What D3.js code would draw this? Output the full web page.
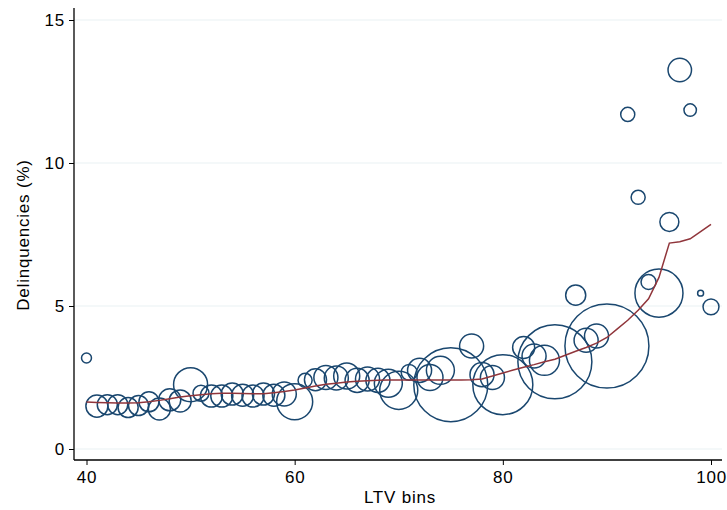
<!DOCTYPE html>
<html>
<head>
<meta charset="utf-8">
<script src="https://cdn.jsdelivr.net/npm/d3@7"></script>
<style>
  body { margin: 0; background: #fff; }
  svg { display: block; font-family: "Liberation Sans", Arial, sans-serif; }
</style>
</head>
<body>
<svg id="chart" width="727" height="510"></svg>
<script>
// LTV bins shown as bubbles (some bins have no bubble)
const bins = [40, 41, 42, 43, 44, 45, 46, 47, 48, 49, 50, 51, 52, 53, 54, 55, 56, 57, 58, 59,
  60, 61, 62, 63, 64, 65, 66, 67, 68, 69, 70, 71, 72, 73, 74, 75, 77, 78, 79, 80,
  82, 83, 84, 85, 87, 88, 89, 90, 92, 93, 94, 95, 96, 97, 98, 99, 100];
const delinq = [3.18, 1.50, 1.55, 1.55, 1.45, 1.52, 1.65, 1.40, 1.72, 1.68, 2.25, 1.95, 1.85, 1.85, 1.92, 1.88, 1.85, 1.92, 1.88, 1.92,
  1.65, 2.40, 2.42, 2.50, 2.48, 2.55, 2.40, 2.45, 2.40, 2.30, 2.05, 2.68, 2.75, 2.50, 2.75, 2.25, 3.60, 2.60, 2.50, 2.25,
  3.55, 3.25, 3.10, 3.05, 5.38, 3.80, 3.95, 3.60, 11.70, 8.80, 5.84, 5.45, 7.94, 13.25, 11.85, 5.45, 4.97];
// bubble weights (share of loans)
const weight = [1.4, 6.9, 5.7, 5.7, 5.7, 5.7, 5.7, 6.9, 6.9, 6.9, 16.4, 3.6, 6.9, 6.9, 6.9, 6.9, 6.9, 6.9, 6.9, 8.2,
  18.4, 2.8, 6.9, 8.2, 8.2, 9.6, 8.2, 8.2, 8.2, 11.1, 20.5, 3.6, 8.2, 9.6, 11.1, 77.6, 8.2, 8.2, 8.2, 51,
  6.9, 8.2, 12.8, 77.6, 5.7, 8.2, 8.2, 100, 2.8, 2.8, 3.2, 32.7, 5.1, 7.8, 2.2, 0.5, 3.6];

// fitted line
const fitX = d3.range(40, 101);
const fitY = [1.64, 1.63, 1.62, 1.61, 1.61, 1.62, 1.65, 1.70, 1.76, 1.82, 1.86, 1.90, 1.93, 1.95, 1.95, 1.94, 1.93, 1.93, 1.97, 2.01,
  2.06, 2.13, 2.20, 2.26, 2.30, 2.34, 2.37, 2.39, 2.40, 2.41, 2.41, 2.41, 2.41, 2.41, 2.41, 2.41, 2.41, 2.42, 2.45, 2.55,
  2.66, 2.76, 2.86, 2.95, 3.05, 3.14, 3.28, 3.42, 3.55, 3.70, 3.90, 4.20, 4.50, 4.85, 5.25, 6.00, 7.20, 7.25, 7.35, 7.60, 7.85];

const xTicks = [40, 60, 80, 100];
const yTicks = [0, 5, 10, 15];

const svg = d3.select("#chart");
const plotLeft = 74, plotRight = 722, plotTop = 8, plotBottom = 460;

const x = d3.scaleLinear().domain([40, 100]).range([86.5, 711]);
const y = d3.scaleLinear().domain([0, 15]).range([449, 20]);
const r = d3.scaleSqrt().domain([0, 100]).range([0, 42]);

// gridlines
svg.append("g")
  .selectAll("line")
  .data(yTicks)
  .join("line")
  .attr("x1", plotLeft + 1).attr("x2", plotRight)
  .attr("y1", d => y(d)).attr("y2", d => y(d))
  .attr("stroke", "#eaf2f3")
  .attr("stroke-width", 1.2);

// bubbles
svg.append("g")
  .selectAll("circle")
  .data(bins.map((b, i) => ({ b, v: delinq[i], w: weight[i] })))
  .join("circle")
  .attr("cx", d => x(d.b))
  .attr("cy", d => y(d.v))
  .attr("r", d => r(d.w))
  .attr("fill", "none")
  .attr("stroke", "#1a476f")
  .attr("stroke-width", 1.5);

// fitted line
svg.append("path")
  .datum(fitX.map((b, i) => [b, fitY[i]]))
  .attr("fill", "none")
  .attr("stroke", "#90353b")
  .attr("stroke-width", 1.5)
  .attr("d", d3.line().x(d => x(d[0])).y(d => y(d[1])));

// axes
const xAxis = svg.append("g")
  .attr("transform", `translate(0,${plotBottom})`)
  .call(d3.axisBottom(x).tickValues(xTicks).tickSize(5).tickPadding(6));
xAxis.select(".domain").attr("d", `M${plotLeft},0H${plotRight}`);

const yAxis = svg.append("g")
  .attr("transform", `translate(${plotLeft},0)`)
  .call(d3.axisLeft(y).tickValues(yTicks).tickSize(5).tickPadding(4));
yAxis.select(".domain").attr("d", `M0,${plotTop}V${plotBottom}`);

svg.selectAll(".domain").attr("stroke", "#000").attr("stroke-width", 1.3);
svg.selectAll(".tick line").attr("stroke", "#000");
svg.selectAll(".tick text")
  .attr("font-family", "Liberation Sans, Arial, sans-serif")
  .attr("font-size", 17)
  .attr("letter-spacing", "0.8px")
  .attr("fill", "#000");

// axis titles
svg.append("text")
  .attr("x", 400).attr("y", 503)
  .attr("text-anchor", "middle")
  .attr("font-size", 17)
  .attr("letter-spacing", "0.8px")
  .text("LTV bins");

svg.append("text")
  .attr("transform", "translate(29,235) rotate(-90)")
  .attr("text-anchor", "middle")
  .attr("font-size", 17)
  .attr("letter-spacing", "0.8px")
  .text("Delinquencies (%)");
</script>
</body>
</html>
